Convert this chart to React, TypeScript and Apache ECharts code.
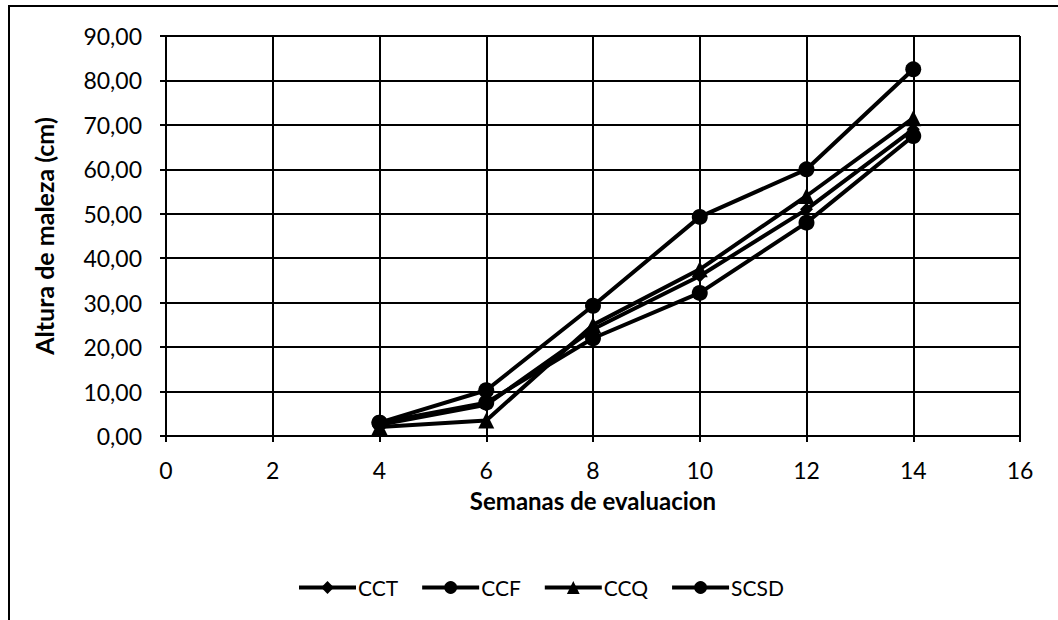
import React, { useEffect, useRef } from "react";
import * as echarts from "echarts";

const weeks = [4, 6, 8, 10, 12, 14];
const cct = [2.5, 7.0, 24.0, 36.0, 51.0, 69.0];
const ccf = [3.0, 7.5, 22.0, 32.2, 48.0, 67.5];
const ccq = [2.0, 3.5, 25.0, 37.5, 54.0, 71.5];
const scsd = [3.0, 10.3, 29.3, 49.3, 60.0, 82.5];

const seriesNames = ["CCT", "CCF", "CCQ", "SCSD"];
const seriesSymbols = ["diamond", "circle", "triangle", "circle"];
const seriesData = [cct, ccf, ccq, scsd];

const FONT = "Lato, 'Open Sans', sans-serif";

export default function App() {
  const ref = useRef<HTMLDivElement>(null);
  useEffect(() => {
    if (!ref.current) return;
    const chart = echarts.init(ref.current, null, { renderer: "svg" });
    chart.setOption({
      animation: false,
      backgroundColor: "#fff",
      textStyle: { fontFamily: FONT, color: "#000" },
      grid: { left: 166, right: 38, top: 36, bottom: 184, containLabel: false },
      xAxis: {
        type: "value",
        min: 0,
        max: 16,
        interval: 2,
        name: "Semanas de evaluacion",
        nameLocation: "middle",
        nameGap: 52,
        nameTextStyle: { fontSize: 24, fontWeight: "bold", fontFamily: FONT, color: "#000" },
        axisLine: { show: true, lineStyle: { color: "#000", width: 2 } },
        axisTick: { show: true, length: 6, lineStyle: { color: "#000", width: 2 } },
        axisLabel: { fontSize: 23, color: "#000", margin: 22, fontFamily: FONT },
        splitLine: { show: true, lineStyle: { color: "#000", width: 2 } },
      },
      yAxis: {
        type: "value",
        min: 0,
        max: 90,
        interval: 10,
        name: "Altura de maleza (cm)",
        nameLocation: "middle",
        nameGap: 110,
        nameTextStyle: { fontSize: 25, fontWeight: "bold", fontFamily: FONT, color: "#000" },
        axisLine: { show: true, lineStyle: { color: "#000", width: 2 } },
        axisTick: { show: true, length: 6, lineStyle: { color: "#000", width: 2 } },
        axisLabel: {
          fontSize: 23,
          color: "#000",
          margin: 24,
          fontFamily: FONT,
          formatter: (v: number) => v.toFixed(2).replace(".", ","),
        },
        splitLine: { show: true, lineStyle: { color: "#000", width: 2 } },
      },
      legend: {
        top: 572,
        left: 292,
        itemWidth: 57,
        itemHeight: 16,
        itemGap: 22,
        lineStyle: { width: 4, color: "#000" },
        textStyle: { fontSize: 21, color: "#000", fontFamily: FONT, padding: [0, 0, 0, -3] },
        data: seriesNames,
      },
      series: seriesNames.map((n, i) => ({
        name: n,
        type: "line",
        data: weeks.map((w, j) => [w, seriesData[i][j]]),
        symbol: seriesSymbols[i],
        symbolSize: seriesSymbols[i] === "diamond" ? 13 : 16,
        lineStyle: { color: "#000", width: 4 },
        itemStyle: { color: "#000" },
        z: 3,
      })),
      graphic: [
        {
          type: "polyline",
          shape: { points: [[9, 620], [9, 6], [1058, 6]] },
          style: { stroke: "#000", lineWidth: 2, fill: "none" },
        },
      ],
    });
    return () => chart.dispose();
  }, []);
  return (
    <div
      ref={ref}
      style={{ position: "fixed", left: 0, top: 0, width: 1058, height: 620, background: "#fff" }}
    />
  );
}
